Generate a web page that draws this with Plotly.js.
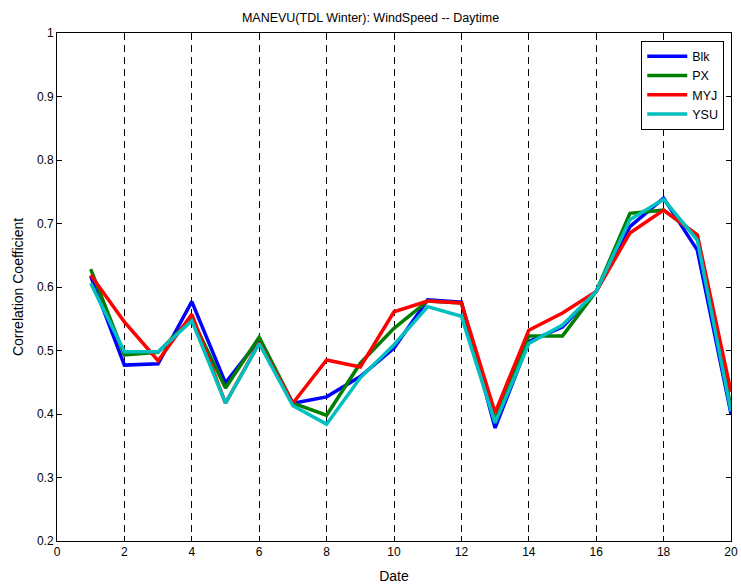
<!DOCTYPE html>
<html><head><meta charset="utf-8">
<script src="https://cdn.plot.ly/plotly-3.0.1.min.js"></script>
<style>body{margin:0;background:#fff}#c{width:741px;height:587px}</style>
</head><body><div id="c"></div>
<script>
const dates = [1,2,3,4,5,6,7,8,9,10,11,12,13,14,15,16,17,18,19,20];
const blk = [0.617,0.477,0.479,0.577,0.449,0.517,0.417,0.427,0.459,0.504,0.580,0.576,0.378,0.514,0.537,0.593,0.695,0.740,0.658,0.400];
const px  = [0.628,0.493,0.497,0.551,0.441,0.521,0.417,0.398,0.480,0.535,0.578,0.575,0.391,0.523,0.523,0.593,0.716,0.721,0.682,0.410];
const myj = [0.619,0.545,0.484,0.557,0.417,0.512,0.417,0.485,0.474,0.561,0.578,0.575,0.402,0.532,0.559,0.593,0.685,0.721,0.682,0.435];
const ysu = [0.606,0.498,0.498,0.547,0.417,0.511,0.413,0.384,0.457,0.509,0.569,0.554,0.386,0.511,0.540,0.593,0.706,0.738,0.674,0.404];
const names = ['Blk','PX','MYJ','YSU'];
const colors = ['#0000ff','#007f00','#ff0000','#00bfbf'];
const series = [blk, px, myj, ysu];

const traces = series.map((s,i)=>({x:dates,y:s,name:names[i],type:'scatter',mode:'lines',
  line:{color:colors[i],width:3.5}}));

const font = {family:'Liberation Sans, Arial, sans-serif',size:12,color:'#000'};
Plotly.newPlot('c',traces,{
  width:741,height:587,
  margin:{l:57,r:10,t:33,b:46},
  paper_bgcolor:'#fff',plot_bgcolor:'#fff',
  font:font,
  title:{text:'MANEVU(TDL Winter): WindSpeed -- Daytime',font:{size:12.5},x:0.5,xanchor:'center',y:0.978,yanchor:'top'},
  xaxis:{range:[0,20],dtick:2,tick0:0,showline:true,mirror:'ticks',linecolor:'#000',linewidth:1,
    ticks:'inside',ticklen:5,tickcolor:'#000',showgrid:true,gridcolor:'#000',griddash:'7px,5px',gridwidth:1,
    zeroline:false,title:{text:'Date',standoff:12}},
  yaxis:{range:[0.2,1],dtick:0.1,tick0:0.2,showline:true,mirror:'ticks',linecolor:'#000',linewidth:1,
    ticks:'inside',ticklen:5,tickcolor:'#000',showgrid:false,zeroline:false,
    title:{text:'Correlation Coefficient',standoff:10}},
  legend:{x:0.99,xanchor:'right',y:0.985,yanchor:'top',bordercolor:'#000',borderwidth:1,bgcolor:'#fff',
    font:{size:12.5},tracegroupgap:0,itemwidth:40},
  showlegend:true
},{displayModeBar:false,staticPlot:true});
</script></body></html>
